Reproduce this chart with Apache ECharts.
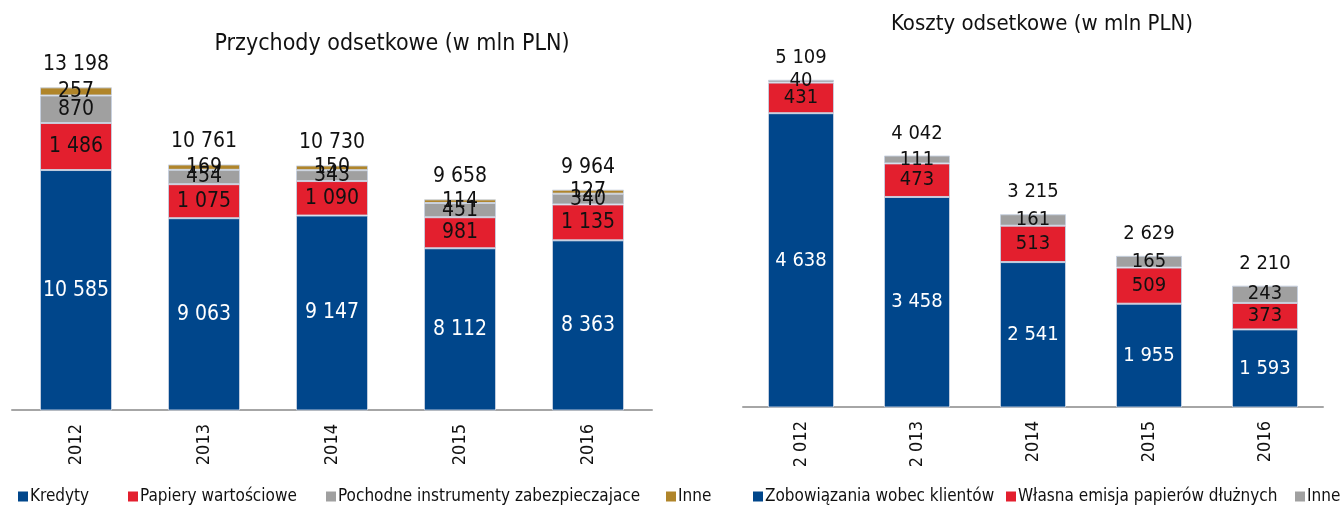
<!DOCTYPE html>
<html><head><meta charset="utf-8">
<script src="https://cdn.jsdelivr.net/npm/echarts@6/dist/echarts.min.js"></script>
<style>html,body{margin:0;padding:0;background:#fff}#c{width:1340px;height:508px}</style>
</head><body><div id="c"></div>
<script>
// ---- data ----
const leftYears = ['2012', '2013', '2014', '2015', '2016'];
const rightYears = ['2 012', '2 013', '2014', '2015', '2016'];
const kredyty = [10585, 9063, 9147, 8112, 8363];
const papiery = [1486, 1075, 1090, 981, 1135];
const pochodne = [870, 454, 343, 451, 340];
const innePrzych = [257, 169, 150, 114, 127];
const przychodyTotal = [13198, 10761, 10730, 9658, 9964];
const zobowiazania = [4638, 3458, 2541, 1955, 1593];
const emisja = [431, 473, 513, 509, 373];
const inneKoszty = [40, 111, 161, 165, 243];
const kosztyTotal = [5109, 4042, 3215, 2629, 2210];

const FONT = "'Liberation Sans Narrow', 'DejaVu Sans Condensed', sans-serif";
const C_BLUE = '#00468B', C_RED = '#E31F2E', C_GRAY = '#A0A0A0', C_GOLD = '#B0852A';
const fmt = v => String(v).replace(/\B(?=(\d{3})+(?!\d))/g, ' ');

function seg(name, data, color, gi, stack, labelColor, fs) {
  return {
    type: 'bar', name, data, stack, xAxisIndex: gi, yAxisIndex: gi,
    barWidth: gi === 0 ? 72 : 66,
    itemStyle: { color, borderColor: 'rgba(200,210,225,0.9)', borderWidth: 1 },
    label: { show: true, position: 'inside', color: labelColor, fontFamily: FONT, fontSize: fs,
      formatter: p => fmt(p.value) },
    emphasis: { disabled: true }
  };
}
function totalSeries(totals, gi, stack, fs) {
  return {
    type: 'bar', name: 'total' + gi, data: totals.map(() => 0), stack, xAxisIndex: gi, yAxisIndex: gi,
    barWidth: gi === 0 ? 72 : 66,
    itemStyle: { color: 'transparent' },
    label: { show: true, position: 'top', distance: 12, color: '#111', fontFamily: FONT, fontSize: fs,
      formatter: p => fmt(totals[p.dataIndex]) },
    emphasis: { disabled: true }, silent: true
  };
}
function legendItem(name, left) {
  return { data: [name], left, top: 488, itemWidth: 10, itemHeight: 10, icon: 'rect', padding: 0,
    itemGap: 0, selectedMode: false, itemStyle: { borderWidth: 0 },
    textStyle: { fontFamily: FONT, fontSize: 17, color: '#111', padding: [0, 0, 0, -3] } };
}

const option = {
  animation: false,
  title: [
    { text: 'Przychody odsetkowe (w mln PLN)', left: 387, top: 28, textAlign: 'center',
      textStyle: { fontFamily: FONT, fontSize: 23, fontWeight: 'normal', color: '#111' } },
    { text: 'Koszty odsetkowe (w mln PLN)', left: 1037, top: 8, textAlign: 'center',
      textStyle: { fontFamily: FONT, fontSize: 22, fontWeight: 'normal', color: '#111' } }
  ],
  legend: [
    legendItem('Kredyty', 18),
    legendItem('Papiery wartościowe', 128),
    legendItem('Pochodne instrumenty zabezpieczajace', 326),
    legendItem('Inne', 666),
    legendItem('Zobowiązania wobec klientów', 753),
    legendItem('Własna emisja papierów dłużnych', 1006),
    legendItem('Inne ', 1295)
  ],
  grid: [
    { left: 12, width: 640, top: 62, height: 348 },
    { left: 743, width: 580, top: 52, height: 355 }
  ],
  xAxis: [0, 1].map(gi => ({
    type: 'category', gridIndex: gi, data: gi === 0 ? leftYears : rightYears,
    axisLine: { lineStyle: { color: '#A6A6A6', width: 2 } },
    axisTick: { show: false },
    axisLabel: { rotate: 90, margin: 14, fontFamily: FONT, fontSize: 18, color: '#111' }
  })),
  yAxis: [
    { type: 'value', gridIndex: 0, min: 3000, max: 14000, show: false, splitLine: { show: false } },
    { type: 'value', gridIndex: 1, min: 500, max: 5500, show: false, splitLine: { show: false } }
  ],
  series: [
    seg('Kredyty', kredyty, C_BLUE, 0, 'a', '#fff', 21),
    seg('Papiery wartościowe', papiery, C_RED, 0, 'a', '#111', 21),
    seg('Pochodne instrumenty zabezpieczajace', pochodne, C_GRAY, 0, 'a', '#111', 21),
    seg('Inne', innePrzych, C_GOLD, 0, 'a', '#111', 21),
    totalSeries(przychodyTotal, 0, 'a', 21),
    seg('Zobowiązania wobec klientów', zobowiazania, C_BLUE, 1, 'b', '#fff', 20),
    seg('Własna emisja papierów dłużnych', emisja, C_RED, 1, 'b', '#111', 20),
    seg('Inne ', inneKoszty, C_GRAY, 1, 'b', '#111', 20),
    totalSeries(kosztyTotal, 1, 'b', 20)
  ]
};
const chart = echarts.init(document.getElementById('c'), null, { renderer: 'canvas' });
chart.setOption(option);
</script></body></html>
